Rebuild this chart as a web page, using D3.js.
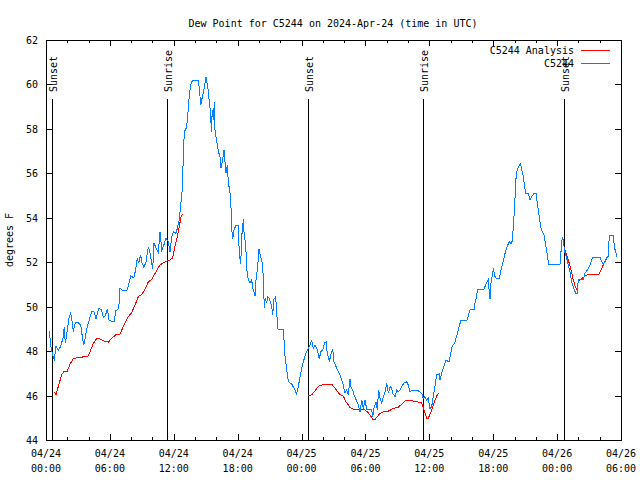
<!DOCTYPE html>
<html>
<head>
<meta charset="utf-8">
<script src="https://cdn.jsdelivr.net/npm/d3@7"></script>
<style>
  html, body { margin: 0; padding: 0; background: #fff; }
  svg { display: block; }
  text { font-family: "DejaVu Sans Mono", "Liberation Mono", monospace; font-size: 10px; fill: #000; }
</style>
</head>
<body>
<script>
// ---------------- DATA ----------------
const title = "Dew Point for C5244 on 2024-Apr-24 (time in UTC)";
const yLabel = "degrees F";
const startTime = Date.UTC(2024, 3, 24, 0, 0);
const endTime = Date.UTC(2024, 3, 26, 6, 0);
const yTicks = [44, 46, 48, 50, 52, 54, 56, 58, 60, 62];

// Observations (hours after 2024-04-24 00:00 UTC)
const obsHours = [0.31,0.44,0.63,0.78,0.94,1.16,1.38,1.62,1.72,1.81,1.94,2.16,2.32,2.47,2.56,2.75,3.03,3.26,3.41,3.54,3.73,3.88,4.07,4.29,4.51,4.70,4.95,5.23,5.38,5.57,5.76,5.92,6.17,6.39,6.57,6.83,6.95,7.20,7.64,7.82,7.95,8.26,8.42,8.57,8.71,8.89,9.02,9.20,9.39,9.61,9.77,9.93,10.02,10.14,10.33,10.55,10.71,10.87,11.02,11.27,11.49,11.65,11.80,11.96,12.21,12.33,12.52,12.65,12.77,12.84,12.89,12.99,13.15,13.27,13.36,13.46,13.59,13.74,14.30,14.40,14.53,14.62,14.77,14.87,15.03,15.15,15.24,15.34,15.47,15.52,15.62,15.71,15.81,15.87,16.03,16.18,16.34,16.43,16.59,16.72,16.81,16.90,17.03,17.12,17.28,17.37,17.44,17.53,17.66,17.84,18.06,18.15,18.29,18.38,18.47,18.53,18.62,18.75,18.85,19.00,19.16,19.32,19.41,19.53,19.63,19.72,19.88,20.00,20.16,20.31,20.41,20.50,20.60,20.73,20.82,20.97,21.20,21.29,21.41,21.57,21.67,21.79,22.29,22.45,22.61,22.76,23.07,23.38,23.54,23.69,23.92,24.16,24.42,24.63,24.79,24.95,25.10,25.26,25.48,25.67,25.80,25.99,26.14,26.30,26.42,26.61,26.74,26.93,27.05,27.24,27.45,27.61,27.77,27.92,28.08,28.24,28.39,28.55,28.64,28.80,28.93,29.11,29.33,29.49,29.65,29.80,29.96,30.12,30.59,30.68,30.80,30.99,31.11,31.24,31.37,31.53,31.68,31.84,32.00,32.15,32.31,32.47,32.56,32.78,32.94,33.09,33.25,33.41,33.62,33.87,34.03,34.18,34.44,34.81,35.12,35.28,35.43,35.59,35.75,35.90,36.06,36.22,36.37,36.53,36.69,36.94,37.00,37.28,37.57,37.85,38.13,38.41,38.69,38.97,39.26,39.54,39.82,39.98,40.20,40.29,40.45,40.50,41.13,41.32,41.54,41.63,41.70,41.79,41.95,42.01,42.17,42.26,42.57,42.70,42.89,43.11,43.32,43.51,43.74,43.83,43.95,44.05,44.14,44.26,44.42,44.58,44.67,44.83,44.92,45.05,45.29,45.45,45.61,45.83,46.02,46.14,46.33,46.46,46.61,46.77,46.96,47.08,47.21,48.27,48.34,48.43,48.49,48.58,48.65,48.74,48.90,49.05,49.21,49.37,49.52,49.68,49.77,49.89,49.99,50.15,50.46,50.62,50.93,51.15,51.34,52.03,52.19,52.34,52.50,52.66,52.81,52.90,53.28,53.37,53.53,53.60];
const obsValues = [48.92,48.27,47.8,47.64,48.23,48.05,48.2,48.65,49.1,48.36,48.72,49.5,49.7,49.3,48.87,49.27,49.27,49.18,48.65,48.27,48.72,49.13,49.4,49.8,49.77,49.44,49.93,49.85,49.5,49.58,49.9,49.4,49.33,49.33,49.82,49.93,50.83,50.72,50.75,51.1,51.38,51.3,51.68,52.15,51.98,52.33,51.95,51.77,52.02,52.7,52.4,51.95,51.68,52.88,52.63,52.43,53.37,52.55,52.7,53.08,52.92,52.47,53.15,53.37,53.3,53.52,53.9,54.57,55.1,55.85,56.75,57.87,58.02,58.32,58.92,59.52,59.98,60.17,60.17,59.83,59.07,59.3,59.6,59.9,60.32,59.98,59.75,59.15,58.7,57.87,58.85,58.4,59.22,57.97,57.45,57.0,56.75,56.23,56.6,57.05,56.53,56.0,56.37,55.63,55.1,54.5,53.52,53.03,53.45,53.67,53.67,52.4,51.92,53.15,53.6,53.93,53.15,52.85,51.72,51.2,51.05,51.2,50.83,50.68,50.48,51.2,51.8,52.58,52.25,51.95,51.35,49.93,50.38,50.15,50.45,50.38,50.0,49.63,50.33,50.45,49.7,48.98,48.98,47.75,47.15,46.62,46.52,46.25,46.07,46.4,47.0,47.52,47.9,48.12,48.27,48.47,48.12,48.27,48.05,47.63,47.98,48.05,48.35,48.42,47.9,47.52,47.82,48.08,47.52,47.3,47.08,46.93,46.7,46.47,46.1,46.25,46.03,46.73,46.4,46.25,46.03,45.83,45.57,45.27,45.8,45.42,45.8,45.38,45.38,45.05,45.42,45.72,45.35,46.25,45.88,45.65,45.95,46.17,46.55,46.1,46.4,46.33,46.1,45.95,46.25,46.17,46.25,46.4,46.58,46.62,46.47,46.17,46.25,46.25,46.17,46.1,45.88,45.95,45.8,45.88,45.42,45.5,45.95,46.4,46.93,46.97,46.7,47.2,47.6,47.5,48.2,48.4,48.9,49.4,49.4,49.4,49.85,49.88,49.88,50.15,50.45,50.78,50.78,51.02,51.23,50.6,50.33,51.05,51.5,51.72,51.35,51.28,51.28,51.58,51.95,52.4,52.73,52.92,52.82,53.22,54.05,54.95,55.77,56.18,56.33,56.45,56.15,55.85,55.48,55.1,55.1,54.82,54.95,55.1,55.1,54.65,54.05,53.6,53.37,53.22,52.7,52.33,51.88,51.88,52.33,52.85,53.15,53.0,52.7,52.4,52.18,51.88,51.58,51.12,50.9,50.68,50.6,50.6,51.23,51.2,51.23,51.5,51.72,51.95,52.22,52.22,52.02,51.92,52.07,52.22,52.25,53.22,53.22,52.7,52.4,52.22];

// Analysis (null marks a gap between segments)
const anaHours = [0.78,0.94,1.47,1.69,2.0,2.27,2.56,3.26,3.97,4.2,4.45,4.76,5.0,5.38,5.85,6.17,6.64,6.95,7.33,7.73,8.05,8.36,8.67,8.99,9.3,9.61,9.93,10.24,10.7,11.18,11.65,11.9,12.11,12.33,12.52,12.68,12.84,
  18.0,
  24.63,24.95,25.67,26.83,27.14,27.55,27.92,28.17,28.55,28.86,29.96,30.27,30.74,30.9,31.37,31.68,32.15,32.62,33.09,33.41,33.81,34.18,35.28,35.5,35.75,35.9,36.22,36.47,36.69,36.94,
  42.0,
  48.74,48.9,49.05,49.21,49.37,49.52,49.71,49.84,49.99,50.15,50.46,50.71,51.96,52.19,52.4,52.66,52.81];
const anaValues = [46.17,46.05,46.93,47.1,47.1,47.42,47.67,47.72,47.78,48.05,48.35,48.57,48.57,48.47,48.4,48.57,48.77,48.77,49.18,49.55,49.73,50.08,50.45,50.55,50.78,51.12,51.23,51.5,51.88,52.02,52.1,52.2,52.7,53.15,53.6,54.05,54.17,
  null,
  45.98,46.03,46.46,46.52,46.33,46.07,45.98,45.72,45.47,45.38,45.35,45.23,44.9,44.92,45.2,45.27,45.3,45.42,45.47,45.62,45.8,45.78,45.68,45.35,44.97,44.97,45.35,45.72,45.98,46.13,
  null,
  52.55,52.33,52.1,51.83,51.53,51.2,50.9,50.78,51.12,51.2,51.32,51.42,51.47,51.72,51.95,52.18,52.28];

const eventHours = [0.59, 11.4, 24.64, 35.37, 48.68];
const eventLabels = ["Sunset", "Sunrise", "Sunset", "Sunrise", "Sunset"];

const seriesNames = ["C5244 Analysis", "C5244"];
const seriesColors = ["#ff0000", "#0080ff"];

// ---------------- CHART ----------------
const W = 640, H = 480;
const plot = { left: 46, right: 621, top: 40, bottom: 440 };
const hourToDate = h => new Date(startTime + h * 3600000);

const x = d3.scaleUtc().domain([new Date(startTime), new Date(endTime)]).range([plot.left, plot.right]);
const y = d3.scaleLinear().domain([44, 62]).range([plot.bottom, plot.top]);

const svg = d3.select("body").append("svg").attr("width", W).attr("height", H);
svg.append("rect").attr("width", W).attr("height", H).attr("fill", "#fff");

// Title
svg.append("text").attr("x", 333).attr("y", 27).attr("text-anchor", "middle").text(title);

// Y label
svg.append("text").attr("transform", "translate(13,240) rotate(-90)").attr("text-anchor", "middle").text(yLabel);

const majorX = d3.utcHour.every(6).range(new Date(startTime), new Date(endTime + 1));
const minorX = d3.utcHour.every(2).range(new Date(startTime), new Date(endTime + 1)).filter(d => d.getUTCHours() % 6 !== 0);

const axes = svg.append("g").attr("stroke", "#000").attr("stroke-width", 1).attr("shape-rendering", "crispEdges");
// x ticks bottom and top
majorX.forEach(d => {
  const px = Math.round(x(d)) + 0.5;
  axes.append("line").attr("x1", px).attr("x2", px).attr("y1", plot.bottom).attr("y2", plot.bottom - 6);
  axes.append("line").attr("x1", px).attr("x2", px).attr("y1", plot.top).attr("y2", plot.top + 6);
});
minorX.forEach(d => {
  const px = Math.round(x(d)) + 0.5;
  axes.append("line").attr("x1", px).attr("x2", px).attr("y1", plot.bottom).attr("y2", plot.bottom - 3);
  axes.append("line").attr("x1", px).attr("x2", px).attr("y1", plot.top).attr("y2", plot.top + 3);
});
// y ticks left and right
yTicks.forEach(v => {
  const py = Math.round(y(v)) + 0.5;
  axes.append("line").attr("x1", plot.left).attr("x2", plot.left + 6).attr("y1", py).attr("y2", py);
  axes.append("line").attr("x1", plot.right).attr("x2", plot.right - 6).attr("y1", py).attr("y2", py);
});

// tick labels
const fmtDate = d3.utcFormat("%m/%d"), fmtTime = d3.utcFormat("%H:%M");
majorX.forEach(d => {
  const t = svg.append("text").attr("text-anchor", "middle");
  t.append("tspan").attr("x", x(d)).attr("y", 457).text(fmtDate(d));
  t.append("tspan").attr("x", x(d)).attr("y", 472).text(fmtTime(d));
});
yTicks.forEach(v => {
  svg.append("text").attr("x", 38).attr("y", y(v) + 4).attr("text-anchor", "end").text(v);
});

// Sunrise / sunset markers
eventHours.forEach((h, i) => {
  const px = Math.round(x(hourToDate(h))) + 0.5;
  axes.append("line").attr("x1", px).attr("x2", px).attr("y1", 99).attr("y2", plot.bottom);
  svg.append("text").attr("transform", `translate(${px + 4},92) rotate(-90)`).attr("text-anchor", "start").text(eventLabels[i]);
});

// Data lines
svg.append("defs").append("clipPath").attr("id", "clip")
  .append("rect").attr("x", plot.left).attr("y", plot.top).attr("width", plot.right - plot.left).attr("height", plot.bottom - plot.top);

const line = d3.line()
  .defined(d => d[1] !== null)
  .x(d => x(hourToDate(d[0])))
  .y(d => y(d[1]));

const obsData = obsHours.map((h, i) => [h, obsValues[i]]);
const anaData = anaHours.map((h, i) => [h, anaValues[i]]);

svg.append("path").attr("d", line(anaData)).attr("fill", "none").attr("stroke", seriesColors[0]).attr("stroke-width", 1)
  .attr("shape-rendering", "crispEdges").attr("clip-path", "url(#clip)");
svg.append("path").attr("d", line(obsData)).attr("fill", "none").attr("stroke", seriesColors[1]).attr("stroke-width", 1)
  .attr("shape-rendering", "crispEdges").attr("clip-path", "url(#clip)");

// Frame
axes.append("rect").attr("x", plot.left + 0.5).attr("y", plot.top + 0.5).attr("width", plot.right - plot.left).attr("height", plot.bottom - plot.top).attr("fill", "none");

// Legend
seriesNames.forEach((name, i) => {
  const ly = 50 + i * 13;
  svg.append("text").attr("x", 574).attr("y", ly + 4).attr("text-anchor", "end").text(name);
  svg.append("line").attr("x1", 581).attr("x2", 610).attr("y1", ly + 0.5).attr("y2", ly + 0.5)
    .attr("stroke", seriesColors[i]).attr("stroke-width", 1).attr("shape-rendering", "crispEdges");
});
</script>
</body>
</html>
